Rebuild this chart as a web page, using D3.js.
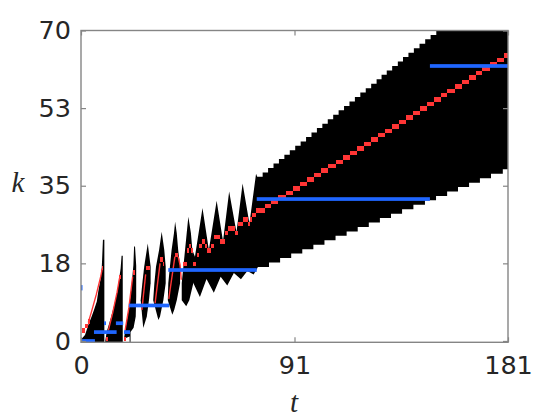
<!DOCTYPE html>
<html><head><meta charset="utf-8">
<script src="https://cdn.jsdelivr.net/npm/d3@7"></script>
<style>html,body{margin:0;padding:0;background:#fff}</style>
</head><body>
<svg id="chart" width="560" height="420"></svg>
<script>
// ---------- tick data ----------
const xTicks = [0, 90.5, 181];
const xTickLabels = ["0", "91", "181"];
const yTicks = [0, 17.5, 35, 52.5, 70];
const yTickLabels = ["0", "18", "35", "53", "70"];

// ---------- black support region: early separate bursts (t,k vertices) ----------
const burstA = [[0.2,-0.3],[0.3,0.5],[1.7,1.35],[3.1,3.6],[4.5,5.5],[5.5,7.0],[6.7,8.9],[7.3,11.1],[8.35,14.2],[8.8,16.5],[9.3,22.8],[9.9,22.8],[9.9,-0.3]];
const burstB = [[10.2,-0.3],[10.9,2.1],[12.6,5.1],[14.1,8.1],[15.4,11.1],[16.2,14.1],[16.8,16.4],[17.2,19.2],[17.7,19.2],[17.7,-0.3]];
const burstC = [[18.2,0.5],[18.65,2.1],[19.6,5.1],[20.5,8.1],[21.2,11.1],[21.7,14.1],[22.2,17.1],[22.5,21.3],[22.9,21.3],[23.4,17],[23.4,10],[23.2,5.5],[22.3,3],[21.0,2],[21.0,-0.3],[20.6,-0.3],[20.6,1]];
const burstD = [[26.4,2.9],[25.3,9.2],[26.0,13],[26.8,16.8],[28.3,22],[29.5,16.8],[29.5,13],[28.8,9.2],[27.9,5.5]];
const burstE = [[32.8,4.7],[30.6,9.2],[31.1,13],[31.8,16.8],[33.1,20.5],[34.2,24.6],[35.3,20.5],[35.9,16.8],[35.9,13],[34.9,9.2],[33.5,5.5]];
const burstF = [[38.7,5.9],[36.8,9.2],[37.0,13],[37.7,16.8],[38.4,20.5],[39.4,24.3],[39.9,26.9],[40.6,24.3],[41.2,20.5],[42.0,16.8],[42.0,13],[40.6,9.2],[39.5,7]];
const burstG = [[44.6,7.8],[42.7,9.2],[42.7,13],[43.4,16.8],[44.1,20.5],[44.8,24.3],[45.5,28],[46.6,24.3],[47.2,20.5],[48.0,16.8],[47.6,13],[45.9,9.2]];

// ---------- black band: oscillating part ----------
const bandTopT = [47.2, 48.3, 51.5, 54.2, 57.5, 60.2, 62.8, 65.9, 68.5, 71.4, 74.2];
const bandTopK = [20.5, 19.0, 30.0, 20.5, 31.6, 22.5, 33.7, 24.5, 35.5, 26.5, 37.7];
const bandBotT = [47.2, 50.4, 53.2, 56.3, 59.2, 62.0, 64.8, 67.8, 70.5, 73.2];
const bandBotK = [13.5, 9.9, 14.0, 10.9, 14.5, 12.5, 15.3, 13.9, 15.8, 15.0];

// ---------- black band: staircase edges (level starts at t) ----------
const upperStepT = [74.7,77.0,79.3,81.6,83.9,86.2,88.5,90.8,93.1,95.4,97.7,100.0,102.3,104.6,106.9,109.2,111.5,113.8,116.1,118.4,120.7,123.0,125.3,127.4,129.6,131.9,134.3,136.5,138.8,141.1,143.5,145.9,148.2,150.6];
const upperStepK = [37,38,39,40,41,42,43,44,45,46,47,48,49,50,51,52,53,54,55,56,57,58,59,60,61,62,63,64,65,66,67,68,69,70];
const lowerStepT = [75.0,79.7,84.4,89.1,93.8,98.5,103.2,107.9,112.6,117.3,122.0,126.7,131.4,136.1,140.9,145.8,150.5,155.2,159.8,164.5,169.1,173.8,178.8];
const lowerStepK = [16.7,17.7,18.7,19.7,20.7,21.7,22.7,23.7,24.7,25.7,26.7,27.7,28.7,29.7,30.7,31.7,32.7,33.7,34.7,35.7,36.7,37.7,38.7];

// ---------- red trajectory: thin rising strokes inside early bursts ----------
const redStrokeA = [[3.1,4.2],[4.4,6.5],[6.5,10.5],[8.4,14.6],[9.0,16.3]];
const redStrokeB = [[11.6,2.4],[13.5,6.5],[15.3,11.0],[16.3,14.1]];
const redStrokeC = [[18.7,2.4],[20.3,7.5],[21.9,14.5]];
const redStrokeD = [[25.8,7.0],[27.4,15.0]];
const redStrokeE = [[31.4,8.5],[33.5,17.5]];
const redStrokeF = [[37.2,9.5],[39.8,19.0]];
const redStrokeFG = [[41.2,19.0],[42.0,17.1],[42.5,13.8]];

// ---------- red trajectory: cells (start t, end t, k) ----------
const redT0 = [0.3,1.7,3.1,8.8,10.6,16.2,18.2,21.9,27.4,33.5,34.6,39.85,43.4,44.8,45.8,46.8,47.6,49.0,50.2,51.2,52.6,53.3,55.0,56.2,58.8,60.9,62.3,65.2,66.6,68.7,70.8,71.6,72.6,74.3,77.8,80.6,83.7,86.7,89.7,92.8,95.8,98.8,101.9,104.9,107.9,110.9,113.9,117.0,120.0,123.0,126.0,128.9,131.8,134.8,137.8,140.7,143.7,146.7,149.6,152.6,155.2,158.5,161.5,164.5,167.4,170.0,173.4,176.5,179.3];
const redT1 = [1.7,3.1,3.9,9.45,11.6,17.1,19.0,22.8,29.2,34.6,35.3,41.2,44.8,45.8,46.8,47.6,48.6,50.2,51.2,52.6,53.3,55.0,56.2,58.8,60.9,62.3,65.2,66.4,68.7,70.8,71.6,72.6,74.3,77.8,80.6,83.7,86.7,89.7,92.8,95.8,98.8,101.9,104.9,107.9,110.9,113.9,117.0,120.0,123.0,126.0,128.9,131.8,134.8,137.8,140.7,143.7,146.7,149.6,152.6,155.2,158.5,161.5,164.5,167.4,170.0,173.4,176.5,179.3,181];
const redK  = [2,3,4,16,0,14,0,15,16,18,17,19,17,20,21,20,17,19,21,22,21,20,21,23,22,24,25,24,26,27,26,27,28,29,30,31,32,33,34,35,36,37,38,39,40,41,42,43,44,45,46,47,48,49,50,51,52,53,54,55,56,57,58,59,60,61,62,63,64];

// ---------- blue levels (start t, end t, k) ----------
const blueT0 = [0.3, 5.5, 9.8, 14.8, 18.2, 20.3, 37.0, 74.5, 147.9, 0.0];
const blueT1 = [5.9, 15.1, 10.6, 17.9, 20.8, 37.4, 74.5, 147.9, 181, 0.6];
const blueK  = [0, 2, 4, 4, 2, 8, 16, 32, 62, 12];

// ---------- layout ----------
const svg = d3.select("#chart");
const L = 81, R = 508, T = 30.5, B = 342.3;
const x = d3.scaleLinear().domain([0, 181]).range([L, R]);
const y = d3.scaleLinear().domain([-0.3, 70]).range([B, T]);

svg.append("defs").append("clipPath").attr("id", "clip")
  .append("rect").attr("x", L).attr("y", T).attr("width", R - L).attr("height", B - T);

const plot = svg.append("g").attr("clip-path", "url(#clip)");
const line = d3.line().x(d => x(d[0])).y(d => y(d[1]));

// early bursts
[burstA, burstB, burstC, burstD, burstE, burstF, burstG].forEach(p => {
  plot.append("path").attr("d", line(p) + "Z").attr("fill", "#000");
});

// band polygon
function stairs(ts, ks, tEnd) {
  const pts = [];
  for (let i = 0; i < ts.length; i++) {
    const tn = i + 1 < ts.length ? ts[i + 1] : tEnd;
    pts.push([ts[i], ks[i]]);
    pts.push([tn, ks[i]]);
  }
  return pts;
}
const topPts = bandTopT.map((t, i) => [t, bandTopK[i]]).concat(stairs(upperStepT, upperStepK, 181));
const botPts = bandBotT.map((t, i) => [t, bandBotK[i]]).concat(stairs(lowerStepT, lowerStepK, 181));
const bandPoly = topPts.concat(botPts.slice().reverse());
plot.append("path").attr("d", line(bandPoly) + "Z").attr("fill", "#000");

// red
const RED = "#ff3535";
[redStrokeA, redStrokeB, redStrokeC, redStrokeD, redStrokeE, redStrokeF, redStrokeFG].forEach(p => {
  plot.append("path").attr("d", line(p)).attr("fill", "none").attr("stroke", RED).attr("stroke-width", 1.4);
});
plot.selectAll("rect.red").data(redK.map((k, i) => ({t0: redT0[i], t1: redT1[i], k})))
  .enter().append("rect").attr("class", "red")
  .attr("x", d => x(d.t0)).attr("width", d => x(d.t1) - x(d.t0))
  .attr("y", d => y(d.k + 0.9)).attr("height", d => y(d.k - 0.1) - y(d.k + 0.9))
  .attr("fill", RED).attr("shape-rendering", "crispEdges");

// blue
const BLUE = "#1f66ff";
plot.selectAll("rect.blue").data(blueK.map((k, i) => ({t0: blueT0[i], t1: blueT1[i], k})))
  .enter().append("rect").attr("class", "blue")
  .attr("x", d => x(d.t0)).attr("width", d => Math.max(1.5, x(d.t1) - x(d.t0)))
  .attr("y", d => d.k === 12 ? y(d.k + 0.6) : y(d.k) - 1.85)
  .attr("height", d => d.k === 12 ? y(d.k - 0.6) - y(d.k + 0.6) : 3.7)
  .attr("fill", BLUE);

// axes box
const AX = "#858585";
svg.append("rect").attr("x", L).attr("y", T).attr("width", R - L).attr("height", B - T)
  .attr("fill", "none").attr("stroke", AX).attr("stroke-width", 1.4);

const xAxisB = d3.axisBottom(x).tickValues(xTicks).tickSize(-5).tickPadding(14)
  .tickFormat((d, i) => xTickLabels[i]);
const xAxisT = d3.axisTop(x).tickValues(xTicks).tickSize(-5).tickFormat("");
const yAxisL = d3.axisLeft(y).tickValues(yTicks).tickSize(-5).tickPadding(10)
  .tickFormat((d, i) => yTickLabels[i]);
const yAxisR = d3.axisRight(y).tickValues(yTicks).tickSize(-5).tickFormat("");

function styleAxis(g) {
  g.select(".domain").remove();
  g.selectAll(".tick line").attr("stroke", AX).attr("stroke-width", 1.2);
  g.selectAll(".tick text").attr("fill", "#262626")
    .style("font-family", "'DejaVu Sans', sans-serif").style("font-size", "25.5px");
}
svg.append("g").attr("transform", `translate(0,${B})`).call(xAxisB).call(styleAxis);
svg.append("g").attr("transform", `translate(0,${T})`).call(xAxisT).call(styleAxis);
svg.append("g").attr("transform", `translate(${L},0)`).call(yAxisL).call(styleAxis);
svg.append("g").attr("transform", `translate(${R},0)`).call(yAxisR).call(styleAxis);

// axis titles
svg.append("text").attr("x", 18).attr("y", 192).attr("text-anchor", "middle")
  .style("font-family", "'Liberation Serif', serif").style("font-style", "italic")
  .style("font-size", "29px").attr("fill", "#262626").text("k");
svg.append("text").attr("x", 294).attr("y", 412).attr("text-anchor", "middle")
  .style("font-family", "'Liberation Serif', serif").style("font-style", "italic")
  .style("font-size", "29px").attr("fill", "#262626").text("t");
</script>
</body></html>
